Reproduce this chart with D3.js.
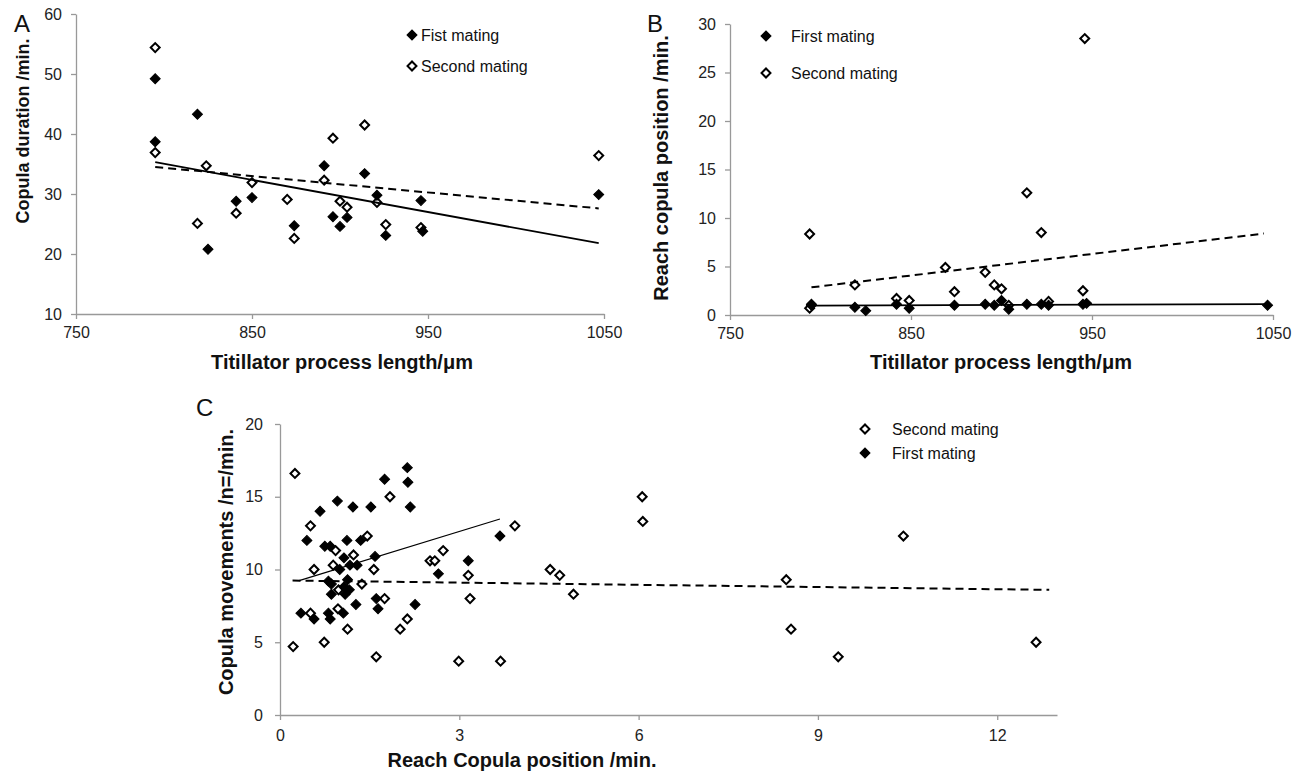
<!DOCTYPE html>
<meta charset="utf-8">
<title>titillator scatter panels</title>
<style>
body { margin: 0; background: #fff; }
svg { font-family: "Liberation Sans", Arial, sans-serif; }
.axis path, .axis line { stroke: #999; stroke-width: 1.3; }
.axis text { font-size: 16px; fill: #222; }
.title { font-size: 20px; font-weight: bold; fill: #111; }
.letter { font-size: 24px; fill: #111; }
.legend text { font-size: 16px; fill: #111; }
.filled { fill: #000; stroke: #000; stroke-width: 1; }
.open { fill: #fff; stroke: #000; stroke-width: 2; }
.fit { fill: none; stroke: #000; }
</style>
<script src="https://d3js.org/d3.v7.min.js"></script>
<body>
<script>
// panel A: process length vs copula duration
var aFirst = [[795,49.2],[795,38.7],[819,43.3],[825,20.8],[841,28.8],[850,29.4],[874,24.7],[891,34.7],
  [896,26.2],[900,24.6],[904,26.1],[914,33.4],[921,29.8],[926,23.1],[946,28.9],[947,23.8],[1047,29.9]];
var aSecond = [[795,54.4],[795,36.9],[824,34.7],[819,25.1],[850,31.9],[841,26.8],[870,29.1],[874,22.6],
  [891,32.3],[896,39.3],[900,28.8],[904,27.8],[914,41.5],[921,28.6],[926,24.9],[946,24.4],[1047,36.4]];
var aFirstFit = [[795,35.3],[1047,21.8]];
var aSecondFit = [[795,34.5],[1047,27.6]];

// panel B: process length vs reach copula position
var bFirst = [[795,1.1],[795,1.0],[819,0.8],[825,0.45],[842,1.1],[849,0.7],[874,1.0],[891,1.1],[896,1.0],
  [900,1.5],[904,0.6],[914,1.1],[922,1.1],[926,1.0],[945,1.1],[947,1.2],[1047,1.0]];
var bSecond = [[794,8.35],[914,12.6],[922,8.5],[869,4.9],[891,4.4],[819,3.1],[896,3.1],[900,2.7],[874,2.4],
  [842,1.7],[849,1.5],[926,1.4],[794,0.7],[904,1.0],[946,28.5],[945,2.5]];
var bFirstFit = [[795,0.96],[1047,1.13]];
var bSecondFit = [[795,2.85],[1045,8.4]];

// panel C: reach copula position vs copula movements
var cSecond = [[0.25,16.6],[1.84,15.0],[0.51,13.0],[1.46,12.3],[0.93,11.3],[1.23,11.0],[0.57,10.0],[0.89,10.3],
  [1.57,10.0],[1.37,9.0],[0.98,8.6],[1.75,8.0],[0.97,7.3],[0.51,7.0],[1.13,5.9],[0.74,5.0],[0.22,4.7],
  [1.61,4.0],[2.13,6.6],[2.01,5.9],[3.18,8.0],[3.15,9.6],[2.73,11.3],[2.51,10.6],[2.59,10.6],[3.93,13.0],
  [2.99,3.7],[3.69,3.7],[6.06,15.0],[6.07,13.3],[4.52,10.0],[4.68,9.6],[4.91,8.3],[8.47,9.3],[8.55,5.9],
  [9.34,4.0],[10.43,12.3],[12.65,5.0]];
var cFirst = [[2.13,17.0],[1.75,16.2],[2.14,16.0],[0.96,14.7],[1.22,14.3],[1.52,14.3],[2.18,14.3],[0.67,14.0],
  [0.45,12.0],[1.12,12.0],[1.35,12.0],[0.75,11.6],[0.84,11.6],[1.07,10.8],[1.59,10.9],[1.17,10.3],[1.29,10.3],
  [1.0,10.0],[0.81,9.2],[0.86,9.0],[1.13,9.3],[1.07,8.8],[0.86,8.3],[1.09,8.3],[1.16,8.6],[1.61,8.0],
  [1.27,7.6],[2.26,7.6],[1.64,7.3],[0.35,7.0],[0.81,7.0],[1.06,7.0],[0.57,6.6],[0.84,6.6],[2.65,9.7],
  [3.15,10.6],[3.68,12.3]];
var cFirstFit = [[0.32,9.24],[3.68,13.47]];
var cSecondFit = [[0.21,9.24],[12.87,8.6]];

var svg = d3.select("body").append("svg")
    .attr("width", 1304)
    .attr("height", 773);

var diamond = d3.symbol().type(d3.symbolSquare);

function panel(p) {
  var x = d3.scaleLinear().domain(p.xd).range([p.left, p.right]);
  var y = d3.scaleLinear().domain(p.yd).range([p.bottom, p.top]);
  var g = svg.append("g");

  g.append("g").attr("class", "axis")
      .attr("transform", "translate(0," + p.bottom + ")")
      .call(d3.axisBottom(x).tickValues(p.xt).tickFormat(d3.format("d"))
        .tickSize(5).tickPadding(p.xpad).tickSizeOuter(0));
  g.append("g").attr("class", "axis")
      .attr("transform", "translate(" + p.left + ",0)")
      .call(d3.axisLeft(y).tickValues(p.yt).tickFormat(d3.format("d"))
        .tickSize(5).tickPadding(p.ypad).tickSizeOuter(0));

  // second mating first, first mating drawn above it
  g.selectAll("path.open").data(p.second).enter().append("path")
      .attr("class", "open")
      .attr("d", diamond.size(40))
      .attr("transform", function(d) { return "translate(" + x(d[0]) + "," + y(d[1]) + ") rotate(45)"; });
  g.selectAll("path.filled").data(p.first).enter().append("path")
      .attr("class", "filled")
      .attr("d", diamond.size(50))
      .attr("transform", function(d) { return "translate(" + x(d[0]) + "," + y(d[1]) + ") rotate(45)"; });

  var line = d3.line().x(function(d) { return x(d[0]); }).y(function(d) { return y(d[1]); });
  g.append("path").attr("class", "fit").attr("d", line(p.firstFit))
      .attr("stroke-width", p.solidW).attr("stroke", p.solidC);
  g.append("path").attr("class", "fit").attr("d", line(p.secondFit))
      .attr("stroke-width", 2).attr("stroke-dasharray", "8,5");

  g.append("text").attr("class", "title")
      .attr("x", p.xtitle[0]).attr("y", p.xtitle[1])
      .attr("text-anchor", "middle").text(p.xlabel);
  g.append("text").attr("class", "title")
      .attr("transform", "translate(" + p.ytitle[0] + "," + p.ytitle[1] + ") rotate(-90)")
      .attr("text-anchor", "middle").attr("dy", "0.35em")
      .style("font-size", p.ysize + "px").text(p.ylabel);
  g.append("text").attr("class", "letter")
      .attr("x", p.letter[0]).attr("y", p.letter[1]).text(p.name);

  var lg = g.append("g").attr("class", "legend");
  p.legend.forEach(function(item, i) {
    var ly = p.legendPos[1] + i * p.legendGap;
    lg.append("path")
        .attr("class", item.open ? "open" : "filled")
        .attr("d", diamond.size(item.open ? 40 : 50))
        .attr("transform", "translate(" + p.legendPos[0] + "," + ly + ") rotate(45)");
    lg.append("text")
        .attr("x", p.legendPos[0] + p.legendText)
        .attr("y", ly).attr("dy", "0.35em")
        .text(item.label);
  });
}

panel({
  name: "A", letter: [14, 32],
  left: 76, right: 604, top: 14, bottom: 314,
  xd: [750, 1050], yd: [10, 60],
  xt: [750, 850, 950, 1050], yt: [10, 20, 30, 40, 50, 60],
  xpad: 8, ypad: 9,
  first: aFirst, second: aSecond, firstFit: aFirstFit, secondFit: aSecondFit,
  solidW: 1.8, solidC: "#000",
  xlabel: "Titillator process length/\u03bcm", xtitle: [342, 369],
  ylabel: "Copula duration /min.", ytitle: [23, 131], ysize: 18,
  legend: [{label: "Fist mating", open: false}, {label: "Second mating", open: true}],
  legendPos: [412, 35], legendGap: 31, legendText: 9
});

panel({
  name: "B", letter: [647, 32],
  left: 730, right: 1273, top: 24, bottom: 315,
  xd: [750, 1050], yd: [0, 30],
  xt: [750, 850, 950, 1050], yt: [0, 5, 10, 15, 20, 25, 30],
  xpad: 8, ypad: 9,
  first: bFirst, second: bSecond, firstFit: bFirstFit, secondFit: bSecondFit,
  solidW: 1.8, solidC: "#000",
  xlabel: "Titillator process length/\u03bcm", xtitle: [1001, 369],
  ylabel: "Reach copula position /min.", ytitle: [661, 168], ysize: 20,
  legend: [{label: "First mating", open: false}, {label: "Second mating", open: true}],
  legendPos: [766, 36], legendGap: 37, legendText: 25
});

panel({
  name: "C", letter: [196, 416],
  left: 280, right: 1057, top: 424, bottom: 715,
  xd: [0, 13], yd: [0, 20],
  xt: [0, 3, 6, 9, 12], yt: [0, 5, 10, 15, 20],
  xpad: 10, ypad: 12,
  first: cFirst, second: cSecond, firstFit: cFirstFit, secondFit: cSecondFit,
  solidW: 1.2, solidC: "#333",
  xlabel: "Reach Copula position /min.", xtitle: [522, 767],
  ylabel: "Copula movements /n=/min.", ytitle: [226, 562], ysize: 20,
  legend: [{label: "Second mating", open: true}, {label: "First mating", open: false}],
  legendPos: [865, 429], legendGap: 24, legendText: 27
});
</script>
